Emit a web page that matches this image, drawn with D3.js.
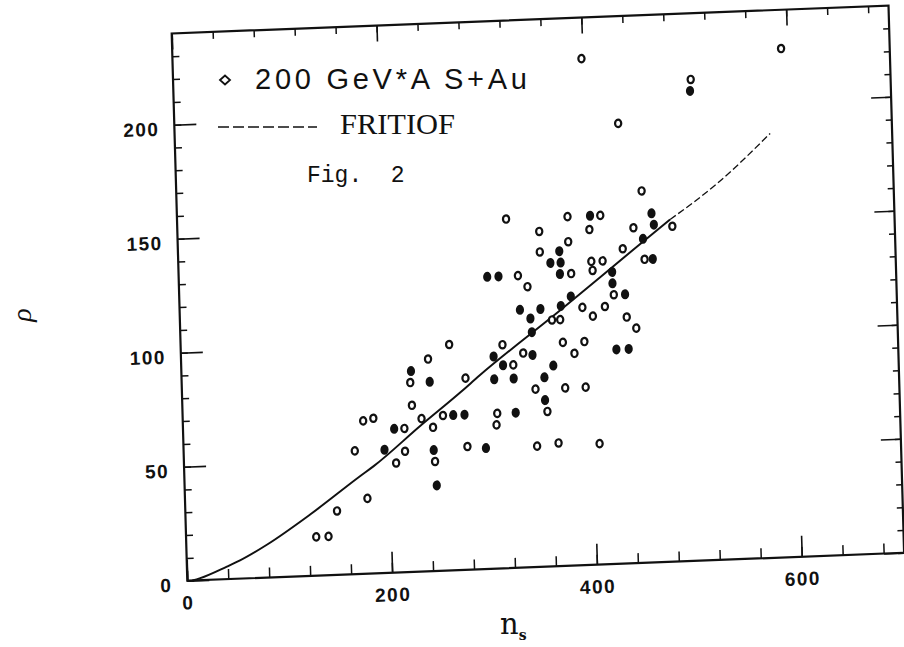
<!DOCTYPE html>
<html>
<head>
<meta charset="utf-8">
<script src="https://cdnjs.cloudflare.com/ajax/libs/d3/7.8.5/d3.min.js"></script>
<style>
  body { margin: 0; background: #fff; }
  svg { display: block; background: #fff; }
</style>
</head>
<body>
<svg id="chart" width="904" height="647"></svg>
<script>
'use strict';

// events (open rings)
let nsOpen = [127, 139, 148, 178, 167, 176, 186, 207, 216, 216, 233, 244, 245, 224, 223, 241, 262, 254, 277, 277,
    307, 306, 345, 374, 394, 356, 345, 366, 406, 314, 334, 324, 331, 340, 321, 353, 353, 381, 381, 383,
    363, 371, 373, 394, 384, 393, 403, 415, 436, 445, 424, 403, 414, 404, 434, 455, 402, 413, 445, 454,
    483, 433, 399, 505, 594]
let rhoOpen = [17, 17, 28, 33, 54, 67, 68, 48, 53, 63, 67, 63, 48, 73, 83, 93, 99, 68, 84, 54,
    68, 63, 78, 78, 78, 68, 53, 54, 53, 98, 94, 89, 128, 123, 153, 147, 138, 153, 142, 128,
    108, 108, 98, 98, 93, 113, 109, 113, 108, 103, 118, 133, 133, 129, 138, 133, 147, 153, 147, 163,
    147, 193, 222, 211, 223]

// events that came out as solid blobs in the print
let nsFilled = [246, 244, 196, 206, 224, 242, 264, 275, 295, 305, 324, 325, 354, 314, 363, 354, 305, 343, 332, 352,
    342, 343, 372, 382, 301, 312, 372, 363, 373, 372, 425, 437, 423, 423, 435, 403, 463, 465, 454, 463, 504]
let rhoFilled = [37.5, 53, 54, 63, 88, 83, 68, 68, 53, 83, 83, 68, 73, 89, 88, 83, 93, 93, 113, 113,
    109, 103, 114, 118, 128, 128, 138, 133, 133, 128, 94, 94, 128, 123, 118, 153, 153, 148, 142, 133, 206]

// FRITIOF curve
let fritiofNs = [5, 12, 39, 52, 79, 122, 172, 185, 232, 272, 291, 371, 446, 481, 528, 581]
let fritiofRho = [0, 0.8, 5.5, 8, 14.5, 27, 43, 47, 64, 78, 85, 112, 138, 150, 165, 186]

let xMajorTicks = [0, 200, 400, 600]
let yMajorTicks = [0, 50, 100, 150, 200]

let svg = d3.select('#chart')
let W = 716.8
let H = 547.2

let x = d3.scaleLinear().domain([0, 700]).range([0, W])
let y = d3.scaleLinear().domain([0, 240]).range([0, -H])

// the page was scanned a little crooked, so the plot lives in a sheared group
let plot = svg.append('g')
    .attr('transform', 'matrix(1,-0.039,0.0285,1,187.3,580.7)')

function styleAxis(g, width) {
    g.select('.domain').remove()
    g.selectAll('.tick line').attr('stroke', '#111').attr('stroke-width', width)
    g.selectAll('.tick text')
        .attr('fill', '#111')
        .style('font-family', '"Liberation Sans", Arial, sans-serif')
        .style('font-weight', 'bold')
        .style('font-size', '19px')
        .style('letter-spacing', '1.5px')
}

// bottom
plot.append('g')
    .call(d3.axisBottom(x).tickValues(d3.range(0, 700, 40)).tickSize(-10).tickFormat(''))
    .call(styleAxis, 1.5)
plot.append('g')
    .call(d3.axisBottom(x).tickValues(xMajorTicks).tickSize(-21).tickPadding(15).tickFormat(d3.format('d')))
    .call(styleAxis, 1.6)

// top
plot.append('g').attr('transform', 'translate(0,' + (-H) + ')')
    .call(d3.axisTop(x).tickValues(d3.range(0, 700, 40)).tickSize(-7).tickFormat(''))
    .call(styleAxis, 1.5)
plot.append('g').attr('transform', 'translate(0,' + (-H) + ')')
    .call(d3.axisTop(x).tickValues(xMajorTicks).tickSize(-16).tickFormat(''))
    .call(styleAxis, 1.6)

// left
plot.append('g')
    .call(d3.axisLeft(y).tickValues(d3.range(0, 240, 10)).tickSize(-7).tickFormat(''))
    .call(styleAxis, 1.5)
let yAxis = plot.append('g')
    .call(d3.axisLeft(y).tickValues(yMajorTicks).tickSize(-22).tickPadding(15).tickFormat(d3.format('d')))
    .call(styleAxis, 1.6)
yAxis.selectAll('.tick text').attr('dy', '0.52em')

// right
plot.append('g').attr('transform', 'translate(' + W + ',0)')
    .call(d3.axisRight(y).tickValues(d3.range(0, 240, 10)).tickSize(-6).tickFormat(''))
    .call(styleAxis, 1.5)
plot.append('g').attr('transform', 'translate(' + W + ',0)')
    .call(d3.axisRight(y).tickValues(yMajorTicks).tickSize(-20).tickFormat(''))
    .call(styleAxis, 1.6)

// frame
plot.append('rect')
    .attr('x', 0).attr('y', -H)
    .attr('width', W).attr('height', H)
    .attr('fill', 'none')
    .attr('stroke', '#111')
    .attr('stroke-width', 2.2)

// FRITIOF line: solid where the print is solid, broken at the top end
let curve = fritiofNs.map((d, i) => [d, fritiofRho[i]])
let line = d3.line()
    .x(d => x(d[0]))
    .y(d => y(d[1]))
    .curve(d3.curveMonotoneX)

plot.append('path')
    .datum(curve.filter(d => d[0] <= 481))
    .attr('d', line)
    .attr('fill', 'none')
    .attr('stroke', '#111')
    .attr('stroke-width', 2)

plot.append('path')
    .datum(curve.filter(d => d[0] >= 481))
    .attr('d', line)
    .attr('fill', 'none')
    .attr('stroke', '#111')
    .attr('stroke-width', 1.3)
    .attr('stroke-dasharray', '7,3')

// markers
let openPts = nsOpen.map((d, i) => ({ ns: d, rho: rhoOpen[i] }))
let filledPts = nsFilled.map((d, i) => ({ ns: d, rho: rhoFilled[i] }))

plot.append('g')
    .selectAll('ellipse')
    .data(openPts)
    .enter().append('ellipse')
    .attr('cx', d => x(d.ns))
    .attr('cy', d => y(d.rho))
    .attr('rx', 3.1)
    .attr('ry', 3.7)
    .attr('fill', '#fff')
    .attr('stroke', '#111')
    .attr('stroke-width', 2.2)

plot.append('g')
    .selectAll('ellipse')
    .data(filledPts)
    .enter().append('ellipse')
    .attr('cx', d => x(d.ns))
    .attr('cy', d => y(d.rho))
    .attr('rx', 4.1)
    .attr('ry', 5)
    .attr('fill', '#111')

// legend and figure note
svg.append('path')
    .attr('d', 'M220,80 L225,75.5 L230,80 L225,84.5 Z')
    .attr('fill', 'none')
    .attr('stroke', '#111')
    .attr('stroke-width', 1.8)

svg.append('text')
    .attr('x', 255).attr('y', 89)
    .attr('textLength', 272)
    .attr('lengthAdjust', 'spacing')
    .style('font-family', '"Liberation Sans", Arial, sans-serif')
    .style('font-size', '29px')
    .attr('fill', '#111')
    .text('200 GeV*A S+Au')

svg.append('line')
    .attr('x1', 218).attr('x2', 317)
    .attr('y1', 127).attr('y2', 127)
    .attr('stroke', '#111')
    .attr('stroke-width', 1.6)
    .attr('stroke-dasharray', '11,4')

svg.append('text')
    .attr('x', 340).attr('y', 134)
    .attr('textLength', 115)
    .attr('lengthAdjust', 'spacingAndGlyphs')
    .style('font-family', '"Liberation Serif", "DejaVu Serif", serif')
    .style('font-size', '29px')
    .attr('fill', '#111')
    .text('FRITIOF')

let figNote = svg.append('text')
    .attr('x', 307).attr('y', 182)
    .style('font-family', '"Liberation Mono", "DejaVu Sans Mono", monospace')
    .style('font-size', '23px')
    .attr('fill', '#111')
figNote.append('tspan').text('Fig.')
figNote.append('tspan').attr('x', 377).text(' 2')

// axis titles
svg.append('text')
    .attr('transform', 'translate(21,315) rotate(-90)')
    .attr('text-anchor', 'middle')
    .attr('dominant-baseline', 'central')
    .style('font-family', '"Liberation Serif", "DejaVu Serif", serif')
    .style('font-style', 'italic')
    .style('font-size', '28px')
    .attr('fill', '#111')
    .text('ρ')

let xTitle = svg.append('text')
    .attr('x', 500).attr('y', 634)
    .style('font-family', '"DejaVu Serif", serif')
    .style('font-size', '29px')
    .attr('fill', '#111')
xTitle.append('tspan').text('n')
xTitle.append('tspan')
    .attr('dy', 6)
    .style('font-size', '14px')
    .style('font-weight', 'bold')
    .text('s')
</script>
</body>
</html>
